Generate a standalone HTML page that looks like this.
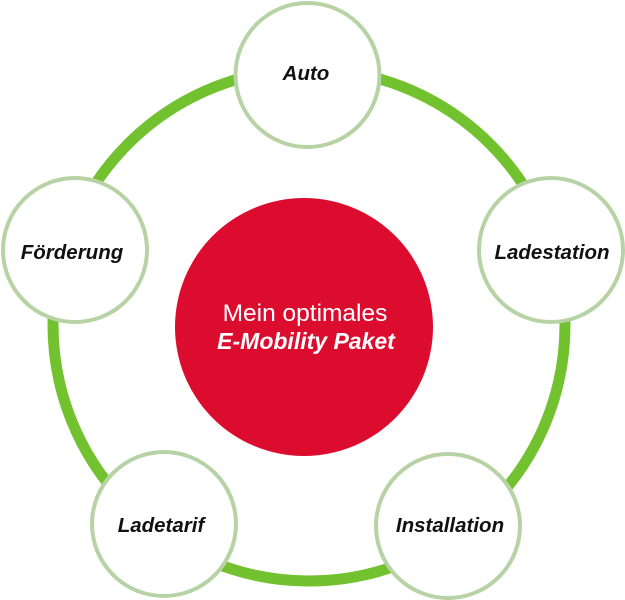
<!DOCTYPE html>
<html><head><meta charset="utf-8"><style>
html,body{margin:0;padding:0;background:#fff;}
svg{display:block;}
text{font-family:"Liberation Sans",sans-serif;}
.l{font-weight:bold;font-style:italic;font-size:20.5px;fill:#111;}
</style></head><body>
<svg width="625" height="600" viewBox="0 0 625 600">
<circle cx="309" cy="325" r="256" fill="none" stroke="#72c12e" stroke-width="11"/>
<circle cx="304" cy="327" r="129" fill="#dc0c2f"/>
<g fill="#fff" stroke="#b7d3a5" stroke-width="4">
<circle cx="307.5" cy="75" r="72"/>
<circle cx="551" cy="250" r="72"/>
<circle cx="75" cy="250" r="72"/>
<circle cx="164" cy="524" r="72"/>
<circle cx="448" cy="526" r="72"/>
</g>
<g text-anchor="middle">
<text x="306" y="80" class="l">Auto</text>
<text x="552" y="259" class="l">Ladestation</text>
<text x="72" y="259" class="l">Förderung</text>
<text x="161" y="532" class="l">Ladetarif</text>
<text x="450" y="532" class="l">Installation</text>
</g>
<text x="305" y="321" text-anchor="middle" fill="#fff" font-size="24.5">Mein optimales</text>
<text x="306" y="349" text-anchor="middle" fill="#fff" font-size="23" font-weight="bold" font-style="italic">E-Mobility Paket</text>
</svg>
</body></html>
